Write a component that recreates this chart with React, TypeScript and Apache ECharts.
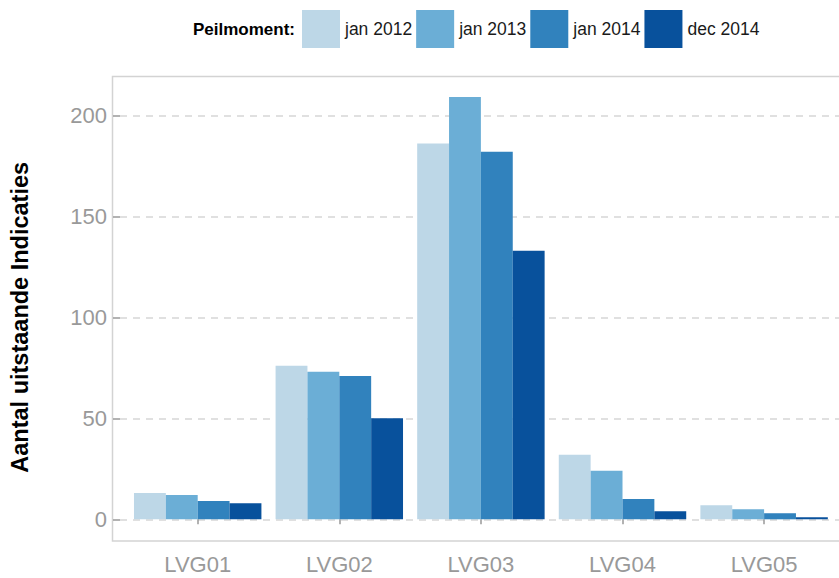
import React, { useEffect, useRef } from "react";
import * as echarts from "echarts";

const categories = ["LVG01", "LVG02", "LVG03", "LVG04", "LVG05"];
const seriesNames = ["jan 2012", "jan 2013", "jan 2014", "dec 2014"];
const jan2012 = [13, 76, 186, 32, 7];
const jan2013 = [12, 73, 209, 24, 5];
const jan2014 = [9, 71, 182, 10, 3];
const dec2014 = [8, 50, 133, 4, 1];
const colors = ["#BDD7E7", "#6BAED6", "#3182BD", "#08519C"];
const yTicks = { min: 0, max: 200, interval: 50 };

const FONT = "'Liberation Sans', Arial, sans-serif";

export default function App() {
  const ref = useRef<HTMLDivElement>(null);
  useEffect(() => {
    if (!ref.current) return;
    const chart = echarts.init(ref.current, undefined, { renderer: "svg" });
    const values = [jan2012, jan2013, jan2014, dec2014];
    const gridTop = 115.3;
    const gridH = 404;
    chart.setOption({
      animation: false,
      backgroundColor: "#ffffff",
      textStyle: { fontFamily: FONT },
      grid: [
        { left: 112, top: gridTop, width: 800, height: gridH },
        { left: 126.9, top: gridTop, width: 708, height: gridH },
      ],
      legend: {
        left: 302,
        top: 10,
        padding: 0,
        itemWidth: 38,
        itemHeight: 38,
        itemGap: 4,
        icon: "rect",
        data: seriesNames,
        textStyle: { fontSize: 17.5, color: "#1a1a1a", fontFamily: FONT },
      },
      xAxis: [
        { gridIndex: 0, type: "value", min: 0, max: 1, show: false },
        {
          gridIndex: 1,
          type: "category",
          data: categories,
          offset: 22,
          axisLine: { show: false },
          axisTick: {
            show: true,
            alignWithLabel: true,
            length: 5,
            lineStyle: { color: "#999", width: 1.5 },
          },
          axisLabel: { fontSize: 22, color: "#999", margin: 12, fontFamily: FONT },
        },
      ],
      yAxis: [
        {
          gridIndex: 0,
          type: "value",
          min: yTicks.min,
          max: yTicks.max,
          interval: yTicks.interval,
          name: "Aantal uitstaande Indicaties",
          nameLocation: "middle",
          nameRotate: 90,
          nameGap: 88,
          nameTextStyle: { fontSize: 23.5, fontWeight: "bold", color: "#000", fontFamily: FONT },
          axisLine: { show: false },
          axisTick: { show: true, length: 7, lineStyle: { color: "#999", width: 1.5 } },
          axisLabel: { fontSize: 22, color: "#999", margin: 13, fontFamily: FONT },
          splitLine: {
            show: true,
            lineStyle: { color: "#d6d6d6", width: 1.5, type: [7, 6] },
          },
        },
        {
          gridIndex: 1,
          type: "value",
          min: yTicks.min,
          max: yTicks.max,
          interval: yTicks.interval,
          show: false,
          splitLine: { show: false },
        },
      ],
      graphic: [
        {
          type: "rect",
          shape: { x: 112.5, y: 76.5, width: 800, height: 464.5 },
          style: { fill: "none", stroke: "#d3d3d3", lineWidth: 1.5 },
          silent: true,
        },
        {
          type: "text",
          x: 193,
          y: 29,
          style: {
            text: "Peilmoment:",
            font: `bold 17px ${FONT}`,
            fill: "#000",
            textVerticalAlign: "middle",
            textAlign: "left",
          },
        },
      ],
      series: seriesNames.map((name, i) => ({
        name,
        type: "bar",
        xAxisIndex: 1,
        yAxisIndex: 1,
        data: values[i],
        barGap: "0%",
        barCategoryGap: "10%",
        clip: false,
        itemStyle: { color: colors[i] },
      })),
    });
    return () => chart.dispose();
  }, []);
  return (
    <div
      ref={ref}
      style={{ position: "fixed", left: 0, top: 0, width: 839, height: 578 }}
    />
  );
}
